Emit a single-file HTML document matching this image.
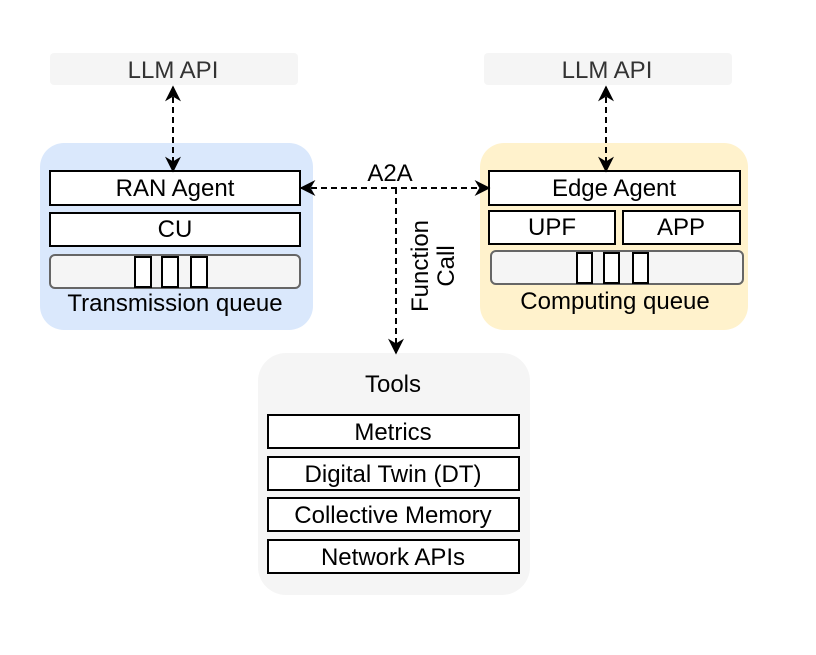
<!DOCTYPE html>
<html><head><meta charset="utf-8"><style>html,body{margin:0;padding:0;background:#fff}</style></head>
<body>
<svg width="816" height="650" viewBox="0 0 816 650" xmlns="http://www.w3.org/2000/svg" font-family="Liberation Sans, Arial, sans-serif" font-size="24">
<defs>
<marker id="ah" viewBox="0 0 10 10" refX="9" refY="5" markerWidth="16" markerHeight="16" markerUnits="userSpaceOnUse" orient="auto-start-reverse">
<path d="M0,0 L10,5 L0,10 L3,5 Z" fill="#000"/></marker>
</defs>
<rect x="50" y="53" width="248" height="32" rx="4" fill="#f5f5f5"/>
<text x="173" y="78" text-anchor="middle" fill="#333">LLM API</text>
<rect x="484" y="53" width="248" height="32" rx="4" fill="#f5f5f5"/>
<text x="607" y="78" text-anchor="middle" fill="#333">LLM API</text>
<rect x="40" y="143" width="273" height="187" rx="24" fill="#dae8fc"/>
<rect x="480" y="143" width="268" height="187" rx="24" fill="#fff2cc"/>
<rect x="258" y="353" width="272" height="242" rx="28" fill="#f5f5f5"/>
<rect x="50" y="171" width="250" height="34" fill="#fff" stroke="#000" stroke-width="2"/>
<text x="175" y="196" text-anchor="middle">RAN Agent</text>
<rect x="50" y="213" width="250" height="33" fill="#fff" stroke="#000" stroke-width="2"/>
<text x="175" y="237" text-anchor="middle">CU</text>
<rect x="50" y="255" width="250" height="33" rx="5" fill="#f5f5f5" stroke="#666" stroke-width="2"/>
<rect x="135" y="257" width="16" height="30" fill="#fff" stroke="#000" stroke-width="2"/>
<rect x="162" y="257" width="16" height="30" fill="#fff" stroke="#000" stroke-width="2"/>
<rect x="191" y="257" width="16" height="30" fill="#fff" stroke="#000" stroke-width="2"/>
<text x="175" y="311" text-anchor="middle">Transmission queue</text>
<rect x="489" y="171" width="251" height="34" fill="#fff" stroke="#000" stroke-width="2"/>
<text x="614" y="196" text-anchor="middle">Edge Agent</text>
<rect x="489" y="211" width="126" height="33" fill="#fff" stroke="#000" stroke-width="2"/>
<text x="552" y="235" text-anchor="middle">UPF</text>
<rect x="623" y="211" width="117" height="33" fill="#fff" stroke="#000" stroke-width="2"/>
<text x="681" y="235" text-anchor="middle">APP</text>
<rect x="491" y="251" width="252" height="33" rx="5" fill="#f5f5f5" stroke="#666" stroke-width="2"/>
<rect x="577" y="253" width="15" height="30" fill="#fff" stroke="#000" stroke-width="2"/>
<rect x="604" y="253" width="15" height="30" fill="#fff" stroke="#000" stroke-width="2"/>
<rect x="633" y="253" width="15" height="30" fill="#fff" stroke="#000" stroke-width="2"/>
<text x="615" y="309" text-anchor="middle">Computing queue</text>
<text x="393" y="392" text-anchor="middle">Tools</text>
<rect x="268" y="415" width="251" height="33" fill="#fff" stroke="#000" stroke-width="2"/>
<text x="393" y="440" text-anchor="middle">Metrics</text>
<rect x="268" y="457" width="251" height="33" fill="#fff" stroke="#000" stroke-width="2"/>
<text x="393" y="482" text-anchor="middle">Digital Twin (DT)</text>
<rect x="268" y="498" width="251" height="33" fill="#fff" stroke="#000" stroke-width="2"/>
<text x="393" y="523" text-anchor="middle">Collective Memory</text>
<rect x="268" y="540" width="251" height="33" fill="#fff" stroke="#000" stroke-width="2"/>
<text x="393" y="565" text-anchor="middle">Network APIs</text>
<g stroke="#000" stroke-width="2" stroke-dasharray="6,4" fill="none">
<line x1="173" y1="87" x2="173" y2="171" marker-start="url(#ah)" marker-end="url(#ah)"/>
<line x1="606" y1="87" x2="606" y2="171" marker-start="url(#ah)" marker-end="url(#ah)"/>
<line x1="301" y1="188" x2="489" y2="188" marker-start="url(#ah)" marker-end="url(#ah)"/>
<line x1="396" y1="188" x2="396" y2="353" marker-end="url(#ah)"/>
</g>
<text x="390" y="181" text-anchor="middle">A2A</text>
<text transform="translate(428,266) rotate(-90)" text-anchor="middle">Function</text>
<text transform="translate(454,266) rotate(-90)" text-anchor="middle">Call</text>
</svg>
</body></html>
